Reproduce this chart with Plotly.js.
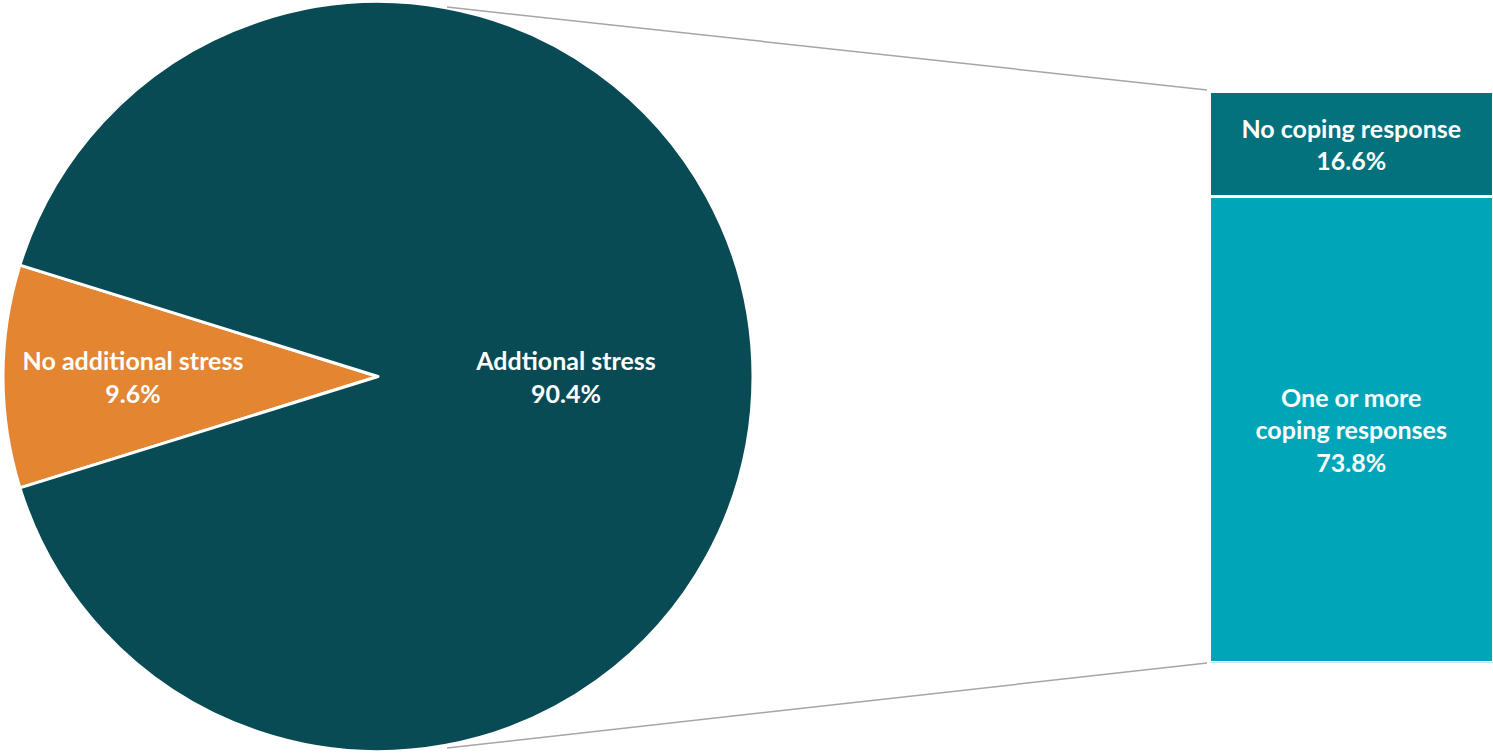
<!DOCTYPE html>
<html>
<head>
<meta charset="utf-8">
<script src="https://cdn.plot.ly/plotly-3.0.1.min.js"></script>
<style>html,body{margin:0;padding:0;background:#fff;}#chart{width:1493px;height:753px;}</style>
</head>
<body>
<div id="chart"></div>
<script>
// Data
var stressLabels = ['No additional stress', 'Addtional stress'];
var stressValues = [9.6, 90.4];
var copingLabels = ['One or more<br>coping responses', 'No coping response'];
var copingValues = [73.8, 16.6];

var W = 1493, H = 753;
var FONT = 'Lato, "Open Sans", sans-serif';
var FSIZE = 25;

// Pie placement (pixels)
var pieLeft = 3, pieSize = 750;
// Bar placement (pixels, outer edge of the white outline)
var barLeft = 1209.5, barTop = 91.5, barBottom = 662.5;

var orangeShare = stressValues[0] / (stressValues[0] + stressValues[1]) * 360;

var pie = {
  type: 'pie',
  labels: stressLabels,
  values: stressValues,
  sort: false,
  direction: 'clockwise',
  rotation: 270 - orangeShare / 2,
  marker: {colors: ['#e38531', '#094b55'], line: {color: '#ffffff', width: 3}},
  texttemplate: '%{label}<br>%{value:.1f}%',
  textposition: 'inside',
  insidetextorientation: 'horizontal',
  textfont: {family: FONT, size: FSIZE, color: '#ffffff', weight: 'bold'},
  hoverinfo: 'label+value',
  domain: {x: [pieLeft / W, (pieLeft + pieSize) / W], y: [0, 1]},
  showlegend: false
};

var barColors = ['#00a6b8', '#03727c'];
var bars = copingValues.map(function (v, i) {
  return {
    type: 'bar',
    x: ['coping'],
    y: [v],
    name: copingLabels[i],
    marker: {color: barColors[i], line: {color: '#ffffff', width: 3}},
    text: [copingLabels[i] + '<br>' + v.toFixed(1) + '%'],
    textposition: 'inside',
    insidetextanchor: 'middle',
    textangle: 0,
    textfont: {family: FONT, size: FSIZE, color: '#ffffff', weight: 'bold'},
    hoverinfo: 'name+y',
    showlegend: false,
    xaxis: 'x',
    yaxis: 'y'
  };
});

var total = copingValues[0] + copingValues[1];

var layout = {
  width: W,
  height: H,
  margin: {l: 0, r: 0, t: 0, b: 0, pad: 0},
  paper_bgcolor: '#ffffff',
  plot_bgcolor: 'rgba(0,0,0,0)',
  barmode: 'stack',
  bargap: 0,
  showlegend: false,
  uniformtext: {mode: 'hide', minsize: 8},
  xaxis: {domain: [barLeft / W, 1], range: [-0.5, 0.5], visible: false, fixedrange: true},
  yaxis: {domain: [1 - barBottom / H, 1 - barTop / H], range: [0, total], visible: false, fixedrange: true},
  shapes: [
    {type: 'line', xref: 'paper', yref: 'paper', x0: 447 / W, y0: 1 - 7 / H, x1: 1207 / W, y1: 1 - 90 / H,
     line: {color: '#a6a6a6', width: 1.5}},
    {type: 'line', xref: 'paper', yref: 'paper', x0: 447 / W, y0: 1 - 748 / H, x1: 1207 / W, y1: 1 - 663 / H,
     line: {color: '#a6a6a6', width: 1.5}}
  ]
};

Plotly.newPlot('chart', [pie].concat(bars), layout, {displayModeBar: false, staticPlot: true});
</script>
</body>
</html>
